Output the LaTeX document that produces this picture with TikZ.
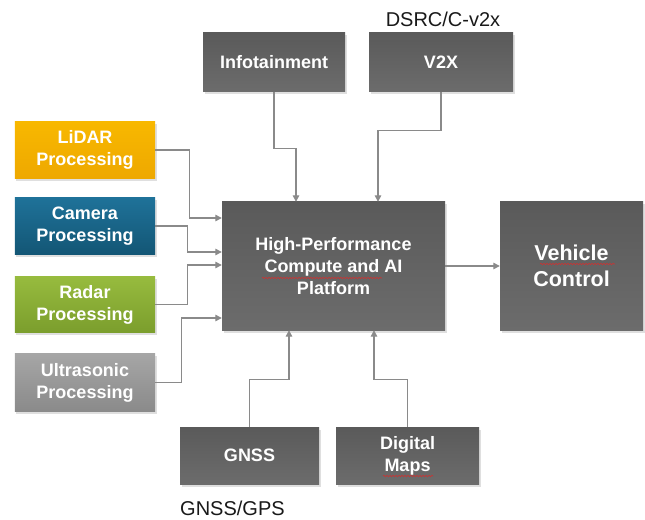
\documentclass[tikz,border=0pt]{standalone}
\usepackage{fontspec}
\setmainfont{Liberation Sans}
\usetikzlibrary{arrows.meta,shadows,decorations.pathmorphing}
\definecolor{boxtop}{HTML}{5A5A5A}
\definecolor{boxbot}{HTML}{6C6C6C}
\definecolor{lidtop}{HTML}{F8B800}
\definecolor{lidbot}{HTML}{EEA800}
\definecolor{camtop}{HTML}{1F7299}
\definecolor{cambot}{HTML}{135675}
\definecolor{radtop}{HTML}{97BB3E}
\definecolor{radbot}{HTML}{7B9E2D}
\definecolor{ulttop}{HTML}{A6A6A6}
\definecolor{ultbot}{HTML}{8A8A8A}
\definecolor{connc}{HTML}{8A8A8A}
\definecolor{spell}{HTML}{D03030}
\tikzset{
  blk/.style={rectangle, minimum width=#1, inner sep=0pt, align=center,
    text=white, font=\fontsize{18bp}{22bp}\selectfont\bfseries,
    drop shadow={opacity=0.25, shadow xshift=1.5bp, shadow yshift=-2.5bp}},
  dark/.style={top color=boxtop, bottom color=boxbot},
  conn/.style={draw=connc, line width=1.3bp, -{Triangle[length=6.5bp,width=6.5bp]}},
  lbl/.style={font=\fontsize{20bp}{24bp}\selectfont, text=black!90, inner sep=0pt},
  squig/.style={draw=spell, line width=0.6bp, decorate, decoration={snake, segment length=3bp, amplitude=0.7bp}}
}
\begin{document}
\begin{tikzpicture}[x=1bp,y=-1bp]
\useasboundingbox (0,0) rectangle (645,520);
% left sensor boxes
\node[blk=140bp, minimum height=57bp, top color=lidtop, bottom color=lidbot] (lidar) at (85,150) {LiDAR\\Processing};
\node[blk=140bp, minimum height=57bp, top color=camtop, bottom color=cambot] (camera) at (85,226) {Camera\\Processing};
\node[blk=140bp, minimum height=56bp, top color=radtop, bottom color=radbot] (radar) at (85,304.5) {Radar\\Processing};
\node[blk=140bp, minimum height=58bp, top color=ulttop, bottom color=ultbot] (ultra) at (85,382.5) {Ultrasonic\\Processing};
% central
\node[blk=223bp, minimum height=128bp, dark] (cpu) at (333.5,266) {High-Performance\\Compute and AI\\Platform};
\node[blk=143bp, minimum height=128bp, dark, font=\fontsize{21.5bp}{26bp}\selectfont\bfseries] (vc) at (571.5,266) {Vehicle\\Control};
% top
\node[blk=142bp, minimum height=59bp, dark] (info) at (274,62.5) {Infotainment};
\node[blk=144bp, minimum height=59bp, dark] (v2x) at (441,62.5) {V2X};
% bottom
\node[blk=139bp, minimum height=57bp, dark] (gnss) at (249.5,455.5) {GNSS};
\node[blk=143bp, minimum height=57bp, dark] (maps) at (407.5,455.5) {Digital\\Maps};
% labels
\node[lbl, anchor=center] (dsrc) at (443,19) {DSRC/C-v2x};
\node[lbl, anchor=west] (gps) at (180,508) {GNSS/GPS};
% spell-check underlines
\draw[squig] (262,278) -- (382,278);
\draw[squig] (540,264) -- (615,264);
\draw[squig] (383,476) -- (433,476);
% connectors
\draw[conn] (lidar.east) -| ([xshift=-32bp,yshift=48bp]cpu.west) -- ([yshift=48bp]cpu.west);
\draw[conn] (camera.east) -| ([xshift=-34bp,yshift=14bp]cpu.west) -- ([yshift=14bp]cpu.west);
\draw[conn] (radar.east) -| ([xshift=-34bp,yshift=1bp]cpu.west) -- ([yshift=1bp]cpu.west);
\draw[conn] (ultra.east) -| ([xshift=-40bp,yshift=-52bp]cpu.west) -- ([yshift=-52bp]cpu.west);
\draw[conn] (info.south) -- ++(0,56) -| ([xshift=-37.5bp]cpu.north);
\draw[conn] (v2x.south) -- ++(0,38) -| ([xshift=44.5bp]cpu.north);
\draw[conn] (gnss.north) -- ++(0,-47) -| ([xshift=-44.5bp]cpu.south);
\draw[conn] (maps.north) -- ++(0,-47) -| ([xshift=40.5bp]cpu.south);
\draw[conn] (cpu.east) -- (vc.west);
\end{tikzpicture}
\end{document}
